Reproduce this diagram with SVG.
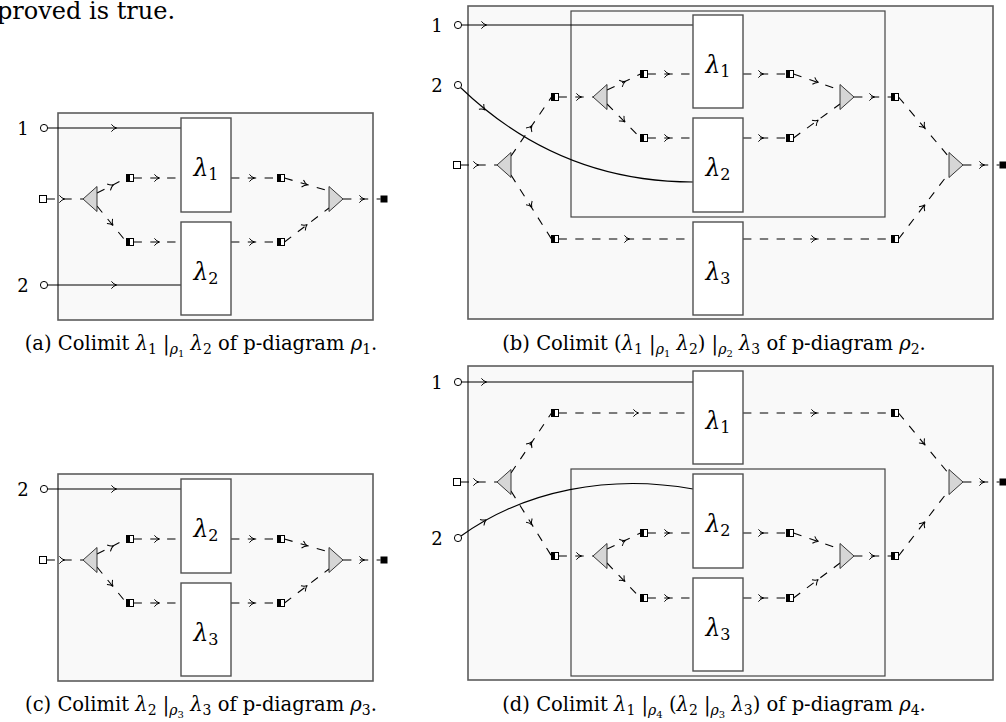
<svg xmlns="http://www.w3.org/2000/svg" width="1006" height="722" viewBox="0 0 1006 722" font-family="'DejaVu Serif', serif">
<defs>
<style>
.outer{fill:#f9f9f9;stroke:#5c5c5c;stroke-width:1.6}
.inner{fill:#f9f9f9;stroke:#444;stroke-width:1.2}
.lam{fill:#fff;stroke:#505050;stroke-width:1.4}
.w{fill:none;stroke:#000;stroke-width:1.1}
.d{fill:none;stroke:#000;stroke-width:1.1;stroke-dasharray:8.4 8.4}
.tri{fill:#d6d6d6;stroke:#222;stroke-width:0.9}
.port{fill:#fff;stroke:#000;stroke-width:1}
.ahp{fill:none;stroke:#000;stroke-width:1}
text{font-family:'DejaVu Serif','Liberation Serif',serif;fill:#000}
.body{font-size:24px}
.cap{font-size:19.5px;text-anchor:middle}
.lt{font-size:23.5px;text-anchor:middle}
.ls{font-size:16px}
.pl{font-size:18px;text-anchor:middle}
.it{font-style:italic}
.sub{font-size:14px}
.ssub{font-size:10px}
</style>
<path id="ah" class="ahp" d="M-3.6,-3.6 Q-1.2,-0.6 1.6,0 Q-1.2,0.6 -3.6,3.6"/>
<g id="hsq"><rect x="-3.5" y="-3.5" width="7" height="7" fill="#fff" stroke="#000" stroke-width="1"/><rect x="-3.5" y="-3.5" width="3.5" height="7" fill="#000"/></g>
<rect id="isq" x="-3.5" y="-3.5" width="7" height="7" fill="#fff" stroke="#000" stroke-width="1"/>
<rect id="osq" x="-3.5" y="-3.5" width="7" height="7" fill="#000"/>
</defs>
<rect x="0" y="0" width="1006" height="722" fill="#fff"/>
<text class="body" x="-3" y="19">proved is true.</text>

<!-- ===== (a) ===== -->
<g id="fig-a">
<rect id="a-box" class="outer" x="58" y="113" width="315" height="207"/>
<g id="a-connectors">
<path class="w" d="M47.6,128 H181"/><use href="#ah" transform="translate(115,128)"/>
<path class="w" d="M47.6,285 H181"/><use href="#ah" transform="translate(115,285)"/>
<path class="d" d="M46.5,199 H83"/><use href="#ah" transform="translate(63,199)"/>
<path class="d" d="M97,193 L126.5,178"/><use href="#ah" transform="translate(112,185.5) rotate(-27)"/>
<path class="d" d="M97,206 L126.5,242"/><use href="#ah" transform="translate(112,224) rotate(51)"/>
<path class="d" d="M133.5,178 H181"/><use href="#ah" transform="translate(158,178)"/>
<path class="d" d="M133.5,242 H181"/><use href="#ah" transform="translate(158,242)"/>
<path class="d" d="M231,178 H277.5"/><use href="#ah" transform="translate(253,178)"/>
<path class="d" d="M231,242 H277.5"/><use href="#ah" transform="translate(253,242)"/>
<path class="d" d="M284.5,178 L329,191"/><use href="#ah" transform="translate(306,184.5) rotate(16)"/>
<path class="d" d="M284.5,242 L329,208"/><use href="#ah" transform="translate(306,225.5) rotate(-37)"/>
<path class="d" d="M343,199 H380.5"/><use href="#ah" transform="translate(363,199)"/>
</g>
<g id="a-port1"><circle class="port" cx="44" cy="128" r="3.6"/><text class="pl" x="23" y="134.5">1</text></g>
<g id="a-port2"><circle class="port" cx="44" cy="285" r="3.6"/><text class="pl" x="23" y="291.5">2</text></g>
<g id="a-in"><use href="#isq" x="43" y="199"/></g>
<g id="a-split"><polygon class="tri" points="83,199 97,186.5 97,211.5"/></g>
<g id="a-s1"><use href="#hsq" x="130" y="178"/></g>
<g id="a-s2"><use href="#hsq" x="130" y="242"/></g>
<g id="a-l1"><rect class="lam" x="181" y="118" width="50" height="94"/><text class="lt" x="206" y="176"><tspan class="it">λ</tspan><tspan class="ls" dy="4">1</tspan></text></g>
<g id="a-l2"><rect class="lam" x="181" y="222" width="50" height="93"/><text class="lt" x="206" y="279.5"><tspan class="it">λ</tspan><tspan class="ls" dy="4">2</tspan></text></g>
<g id="a-s3"><use href="#hsq" x="281" y="178"/></g>
<g id="a-s4"><use href="#hsq" x="281" y="242"/></g>
<g id="a-merge"><polygon class="tri" points="329,186.5 329,211.5 343,199"/></g>
<g id="a-out"><use href="#osq" x="384" y="199"/></g>
<text class="cap" x="201" y="350">(a) Colimit <tspan class="it">λ</tspan><tspan class="sub" dy="3.5">1</tspan><tspan dy="-3.5"> |</tspan><tspan class="sub it" dy="4">ρ</tspan><tspan class="ssub" dy="2.5">1</tspan><tspan dy="-6.5"> </tspan><tspan class="it">λ</tspan><tspan class="sub" dy="3.5">2</tspan><tspan dy="-3.5"> of p-diagram </tspan><tspan class="it">ρ</tspan><tspan class="sub" dy="3.5">1</tspan><tspan dy="-3.5">.</tspan></text>
</g>

<!-- ===== (c) ===== -->
<g id="fig-c">
<rect id="c-box" class="outer" x="58" y="474" width="315" height="207"/>
<g id="c-connectors">
<path class="w" d="M47.6,489 H181"/><use href="#ah" transform="translate(115,489)"/>
<path class="d" d="M46.5,560 H83"/><use href="#ah" transform="translate(63,560)"/>
<path class="d" d="M97,554 L126.5,539"/><use href="#ah" transform="translate(112,546.5) rotate(-27)"/>
<path class="d" d="M97,567 L126.5,603"/><use href="#ah" transform="translate(112,585) rotate(51)"/>
<path class="d" d="M133.5,539 H181"/><use href="#ah" transform="translate(158,539)"/>
<path class="d" d="M133.5,603 H181"/><use href="#ah" transform="translate(158,603)"/>
<path class="d" d="M231,539 H277.5"/><use href="#ah" transform="translate(253,539)"/>
<path class="d" d="M231,603 H277.5"/><use href="#ah" transform="translate(253,603)"/>
<path class="d" d="M284.5,539 L329,552"/><use href="#ah" transform="translate(306,545.5) rotate(16)"/>
<path class="d" d="M284.5,603 L329,569"/><use href="#ah" transform="translate(306,586.5) rotate(-37)"/>
<path class="d" d="M343,560 H380.5"/><use href="#ah" transform="translate(363,560)"/>
</g>
<g id="c-port2"><circle class="port" cx="44" cy="489" r="3.6"/><text class="pl" x="23" y="495.5">2</text></g>
<g id="c-in"><use href="#isq" x="43" y="560"/></g>
<g id="c-split"><polygon class="tri" points="83,560 97,547.5 97,572.5"/></g>
<g id="c-s1"><use href="#hsq" x="130" y="539"/></g>
<g id="c-s2"><use href="#hsq" x="130" y="603"/></g>
<g id="c-l2"><rect class="lam" x="181" y="479" width="50" height="94"/><text class="lt" x="206" y="537"><tspan class="it">λ</tspan><tspan class="ls" dy="4">2</tspan></text></g>
<g id="c-l3"><rect class="lam" x="181" y="583" width="50" height="93"/><text class="lt" x="206" y="640.5"><tspan class="it">λ</tspan><tspan class="ls" dy="4">3</tspan></text></g>
<g id="c-s3"><use href="#hsq" x="281" y="539"/></g>
<g id="c-s4"><use href="#hsq" x="281" y="603"/></g>
<g id="c-merge"><polygon class="tri" points="329,547.5 329,572.5 343,560"/></g>
<g id="c-out"><use href="#osq" x="384" y="560"/></g>
<text class="cap" x="201" y="711">(c) Colimit <tspan class="it">λ</tspan><tspan class="sub" dy="3.5">2</tspan><tspan dy="-3.5"> |</tspan><tspan class="sub it" dy="4">ρ</tspan><tspan class="ssub" dy="2.5">3</tspan><tspan dy="-6.5"> </tspan><tspan class="it">λ</tspan><tspan class="sub" dy="3.5">3</tspan><tspan dy="-3.5"> of p-diagram </tspan><tspan class="it">ρ</tspan><tspan class="sub" dy="3.5">3</tspan><tspan dy="-3.5">.</tspan></text>
</g>

<!-- ===== (b) ===== -->
<g id="fig-b">
<rect id="b-box" class="outer" x="468" y="6" width="525" height="313"/>
<rect id="b-inner" class="inner" x="571" y="11" width="314" height="206"/>
<g id="b-connectors">
<path class="w" d="M461.6,25 H693"/><use href="#ah" transform="translate(485,25)"/>
<path class="w" d="M460.5,87.5 C515,140 590,182 693,182"/><use href="#ah" transform="translate(484,109) rotate(42)"/>
<path class="d" d="M460.5,165 H497"/><use href="#ah" transform="translate(477,165)"/>
<path class="d" d="M511,156 L551.5,97"/><use href="#ah" transform="translate(531,127) rotate(-55)"/>
<path class="d" d="M511,175 L551.5,239"/><use href="#ah" transform="translate(531,206) rotate(58)"/>
<path class="d" d="M558.5,97 H593"/><use href="#ah" transform="translate(580,97)"/>
<path class="d" d="M607,90 L640.5,74"/><use href="#ah" transform="translate(624,82) rotate(-25)"/>
<path class="d" d="M607,104 L640.5,138"/><use href="#ah" transform="translate(624,121) rotate(45)"/>
<path class="d" d="M647.5,74 H693"/><use href="#ah" transform="translate(668,74)"/>
<path class="d" d="M647.5,138 H693"/><use href="#ah" transform="translate(668,138)"/>
<path class="d" d="M743,74 H786.5"/><use href="#ah" transform="translate(762,74)"/>
<path class="d" d="M743,138 H786.5"/><use href="#ah" transform="translate(762,138)"/>
<path class="d" d="M793.5,74 L840,90"/><use href="#ah" transform="translate(817,82) rotate(19)"/>
<path class="d" d="M793.5,138 L840,104"/><use href="#ah" transform="translate(817,121) rotate(-36)"/>
<path class="d" d="M854,97 H891.5"/><use href="#ah" transform="translate(873,97)"/>
<path class="d" d="M898.5,97 L949,157"/><use href="#ah" transform="translate(924,127) rotate(50)"/>
<path class="d" d="M558.5,239 H693"/><use href="#ah" transform="translate(628,239)"/>
<path class="d" d="M743,239 H891.5"/><use href="#ah" transform="translate(815,239)"/>
<path class="d" d="M898.5,239 L949,173"/><use href="#ah" transform="translate(924,206) rotate(-53)"/>
<path class="d" d="M963,165 H999.5"/><use href="#ah" transform="translate(983,165)"/>
</g>
<g id="b-port1"><circle class="port" cx="458" cy="25" r="3.6"/><text class="pl" x="437" y="31.5">1</text></g>
<g id="b-port2"><circle class="port" cx="458" cy="85" r="3.6"/><text class="pl" x="437" y="91.5">2</text></g>
<g id="b-in"><use href="#isq" x="457" y="165"/></g>
<g id="b-split"><polygon class="tri" points="497,165 511,152.5 511,177.5"/></g>
<g id="b-s1"><use href="#hsq" x="555" y="97"/></g>
<g id="b-s2"><use href="#hsq" x="555" y="239"/></g>
<g id="b-split2"><polygon class="tri" points="593,97 607,84.5 607,109.5"/></g>
<g id="b-s3"><use href="#hsq" x="644" y="74"/></g>
<g id="b-s4"><use href="#hsq" x="644" y="138"/></g>
<g id="b-l1"><rect class="lam" x="693" y="15" width="50" height="93"/><text class="lt" x="718" y="72.5"><tspan class="it">λ</tspan><tspan class="ls" dy="4">1</tspan></text></g>
<g id="b-l2"><rect class="lam" x="693" y="118" width="50" height="94"/><text class="lt" x="718" y="176"><tspan class="it">λ</tspan><tspan class="ls" dy="4">2</tspan></text></g>
<g id="b-l3"><rect class="lam" x="693" y="222" width="50" height="93"/><text class="lt" x="718" y="279.5"><tspan class="it">λ</tspan><tspan class="ls" dy="4">3</tspan></text></g>
<g id="b-s5"><use href="#hsq" x="790" y="74"/></g>
<g id="b-s6"><use href="#hsq" x="790" y="138"/></g>
<g id="b-merge2"><polygon class="tri" points="840,84.5 840,109.5 854,97"/></g>
<g id="b-s7"><use href="#hsq" x="895" y="97"/></g>
<g id="b-s8"><use href="#hsq" x="895" y="239"/></g>
<g id="b-merge"><polygon class="tri" points="949,152.5 949,177.5 963,165"/></g>
<g id="b-out"><use href="#osq" x="1003" y="165"/></g>
<text class="cap" x="714" y="350">(b) Colimit (<tspan class="it">λ</tspan><tspan class="sub" dy="3.5">1</tspan><tspan dy="-3.5"> |</tspan><tspan class="sub it" dy="4">ρ</tspan><tspan class="ssub" dy="2.5">1</tspan><tspan dy="-6.5"> </tspan><tspan class="it">λ</tspan><tspan class="sub" dy="3.5">2</tspan><tspan dy="-3.5">) |</tspan><tspan class="sub it" dy="4">ρ</tspan><tspan class="ssub" dy="2.5">2</tspan><tspan dy="-6.5"> </tspan><tspan class="it">λ</tspan><tspan class="sub" dy="3.5">3</tspan><tspan dy="-3.5"> of p-diagram </tspan><tspan class="it">ρ</tspan><tspan class="sub" dy="3.5">2</tspan><tspan dy="-3.5">.</tspan></text>
</g>

<!-- ===== (d) ===== -->
<g id="fig-d">
<rect id="d-box" class="outer" x="468" y="366" width="525" height="314"/>
<rect id="d-inner" class="inner" x="571" y="469" width="314" height="207"/>
<g id="d-connectors">
<path class="w" d="M461.6,382 H693"/><use href="#ah" transform="translate(485,382)"/>
<path class="w" d="M461,536 C525,490 610,474 693,489"/><use href="#ah" transform="translate(485,520.5) rotate(-33)"/>
<path class="d" d="M460.5,482 H497"/><use href="#ah" transform="translate(477,482)"/>
<path class="d" d="M511,473 L551.5,413"/><use href="#ah" transform="translate(531,443) rotate(-56)"/>
<path class="d" d="M511,491 L551.5,556"/><use href="#ah" transform="translate(531,523.5) rotate(58)"/>
<path class="d" d="M558.5,413 H693"/><use href="#ah" transform="translate(637,413)"/>
<path class="d" d="M558.5,556 H593"/><use href="#ah" transform="translate(580,556)"/>
<path class="d" d="M607,549 L640.5,533"/><use href="#ah" transform="translate(624,541) rotate(-25)"/>
<path class="d" d="M607,563 L640.5,598"/><use href="#ah" transform="translate(624,580.5) rotate(46)"/>
<path class="d" d="M647.5,533 H693"/><use href="#ah" transform="translate(668,533)"/>
<path class="d" d="M647.5,598 H693"/><use href="#ah" transform="translate(668,598)"/>
<path class="d" d="M743,533 H786.5"/><use href="#ah" transform="translate(762,533)"/>
<path class="d" d="M743,598 H786.5"/><use href="#ah" transform="translate(762,598)"/>
<path class="d" d="M793.5,533 L840,549"/><use href="#ah" transform="translate(817,541) rotate(19)"/>
<path class="d" d="M793.5,598 L840,563"/><use href="#ah" transform="translate(817,580.5) rotate(-37)"/>
<path class="d" d="M854,556 H891.5"/><use href="#ah" transform="translate(873,556)"/>
<path class="d" d="M898.5,556 L949,490"/><use href="#ah" transform="translate(924,523) rotate(-53)"/>
<path class="d" d="M743,413 H891.5"/><use href="#ah" transform="translate(815,413)"/>
<path class="d" d="M898.5,413 L949,474"/><use href="#ah" transform="translate(924,443.5) rotate(50)"/>
<path class="d" d="M963,482 H999.5"/><use href="#ah" transform="translate(983,482)"/>
</g>
<g id="d-port1"><circle class="port" cx="458" cy="382" r="3.6"/><text class="pl" x="437" y="388.5">1</text></g>
<g id="d-port2"><circle class="port" cx="458" cy="538" r="3.6"/><text class="pl" x="437" y="544.5">2</text></g>
<g id="d-in"><use href="#isq" x="457" y="482"/></g>
<g id="d-split"><polygon class="tri" points="497,482 511,469.5 511,494.5"/></g>
<g id="d-s1"><use href="#hsq" x="555" y="413"/></g>
<g id="d-s2"><use href="#hsq" x="555" y="556"/></g>
<g id="d-split2"><polygon class="tri" points="593,556 607,543.5 607,568.5"/></g>
<g id="d-s3"><use href="#hsq" x="644" y="533"/></g>
<g id="d-s4"><use href="#hsq" x="644" y="598"/></g>
<g id="d-l1"><rect class="lam" x="693" y="371" width="50" height="93"/><text class="lt" x="718" y="428.5"><tspan class="it">λ</tspan><tspan class="ls" dy="4">1</tspan></text></g>
<g id="d-l2"><rect class="lam" x="693" y="474" width="50" height="94"/><text class="lt" x="718" y="532"><tspan class="it">λ</tspan><tspan class="ls" dy="4">2</tspan></text></g>
<g id="d-l3"><rect class="lam" x="693" y="578" width="50" height="93"/><text class="lt" x="718" y="635.5"><tspan class="it">λ</tspan><tspan class="ls" dy="4">3</tspan></text></g>
<g id="d-s5"><use href="#hsq" x="790" y="533"/></g>
<g id="d-s6"><use href="#hsq" x="790" y="598"/></g>
<g id="d-merge2"><polygon class="tri" points="840,543.5 840,568.5 854,556"/></g>
<g id="d-s7"><use href="#hsq" x="895" y="413"/></g>
<g id="d-s8"><use href="#hsq" x="895" y="556"/></g>
<g id="d-merge"><polygon class="tri" points="949,469.5 949,494.5 963,482"/></g>
<g id="d-out"><use href="#osq" x="1003" y="482"/></g>
<text class="cap" x="714" y="711">(d) Colimit <tspan class="it">λ</tspan><tspan class="sub" dy="3.5">1</tspan><tspan dy="-3.5"> |</tspan><tspan class="sub it" dy="4">ρ</tspan><tspan class="ssub" dy="2.5">4</tspan><tspan dy="-6.5"> (</tspan><tspan class="it">λ</tspan><tspan class="sub" dy="3.5">2</tspan><tspan dy="-3.5"> |</tspan><tspan class="sub it" dy="4">ρ</tspan><tspan class="ssub" dy="2.5">3</tspan><tspan dy="-6.5"> </tspan><tspan class="it">λ</tspan><tspan class="sub" dy="3.5">3</tspan><tspan dy="-3.5">) of p-diagram </tspan><tspan class="it">ρ</tspan><tspan class="sub" dy="3.5">4</tspan><tspan dy="-3.5">.</tspan></text>
</g>
</svg>
